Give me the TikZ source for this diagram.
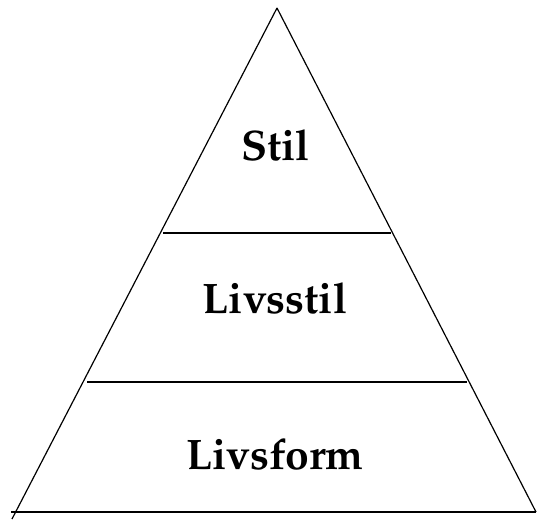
\documentclass[tikz,border=0pt]{standalone}
\usepackage[T1]{fontenc}
\usepackage{mathpazo}
\begin{document}
\begin{tikzpicture}[x=0.75pt,y=-0.75pt]
        \tikzstyle{level} = [text=black, anchor=base, font=\fontsize{32}{38}\selectfont\bfseries]
        \tikzstyle{edge} = [draw=black,line width=.9]
        \useasboundingbox (0,0) rectangle (538,521);
        \coordinate (top) at (277,8);
        \coordinate (left) at (12,519);
        \coordinate (right) at (536,512);
        \coordinate (baseleft) at (11,512);
        \coordinate (upl) at (163,233);
        \coordinate (upr) at (391,233);
        \coordinate (lowl) at (87,382);
        \coordinate (lowr) at (467,382);
        \node[level] (stil) at (275.5,160) {Stil};
        \node[level] (livsstil) at (275,313) {Livsstil};
        \node[level] (livsform) at (275,469) {Livsform};
        \draw[edge] (top) -- (left);
        \draw[edge] (top) -- (right);
        \draw[edge] (baseleft) -- (right);
        \draw[edge] (upl) -- (upr);
        \draw[edge] (lowl) -- (lowr);
\end{tikzpicture}
\end{document}
